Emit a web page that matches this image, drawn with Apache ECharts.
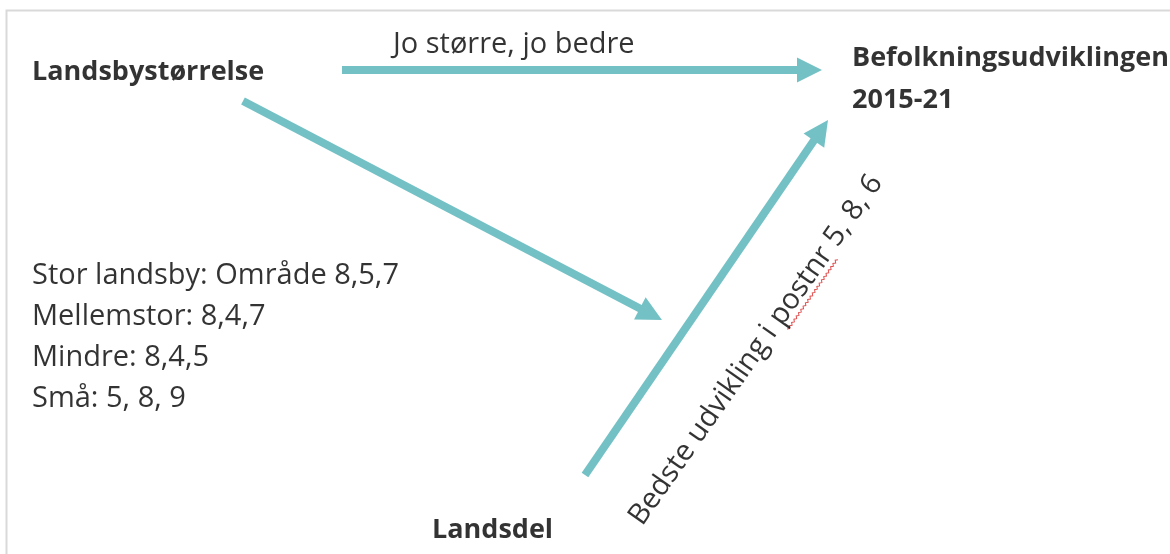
<!DOCTYPE html>
<html>
<head>
<meta charset="utf-8">
<script src="https://cdn.jsdelivr.net/npm/echarts@6/dist/echarts.min.js"></script>
<style>
  html, body { margin: 0; padding: 0; background: #fff; }
  #chart { width: 1170px; height: 554px; }
</style>
</head>
<body>
<div id="chart"></div>
<script>
// nodes of the diagram (names and where they sit, in picture pixels)
var nodeNames = ['Landsbystørrelse', 'Befolkningsudviklingen\n2015-21', 'Landsdel'];
var nodeX = [32, 852, 432];
var nodeY = [72, 79, 530];

// arrows: start and tip
var arrowStart = [[342, 70], [243, 101], [585, 475]];
var arrowTip = [[822, 70], [662, 320], [828, 120]];

// free texts
var topNote = 'Jo større, jo bedre';
var topNoteAt = [393, 45];
var sizeGroups = ['Stor landsby: Område 8,5,7', 'Mellemstor: 8,4,7', 'Mindre: 8,4,5', 'Små: 5, 8, 9'];
var sizeGroupsAt = [32, 337];
var regionNote = 'Bedste udvikling i postnr 5, 8, 6';
var regionNoteAt = [756, 350];
var regionNoteAngle = 55;

var teal = '#74c1c5';
var font = 'Open Sans';
var headSize = 25;

// the line ends in the middle of the arrow head, so pull it back half a head
function arrowData() {
    return arrowStart.map(function (s, i) {
        var t = arrowTip[i];
        var dx = t[0] - s[0], dy = t[1] - s[1];
        var len = Math.sqrt(dx * dx + dy * dy);
        var k = (len - headSize / 2) / len;
        return { coords: [s, [s[0] + dx * k, s[1] + dy * k]] };
    });
}

// spell-check wave under "postnr"
function squiggle(len) {
    var pts = [];
    for (var i = 0; i <= len / 2; i++) {
        pts.push([i * 2, (i % 2) * 2]);
    }
    return pts;
}

var chart = echarts.init(document.getElementById('chart'));
var option = {
    backgroundColor: '#fff',
    animation: false,
    grid: { left: 0, right: 0, top: 0, bottom: 0 },
    xAxis: { type: 'value', min: 0, max: 1170, show: false },
    yAxis: { type: 'value', min: 0, max: 554, inverse: true, show: false },
    graphic: [
        {
            type: 'polyline',
            shape: { points: [[6.5, 554], [6.5, 10.5], [1170, 10.5]] },
            style: { stroke: '#d9d9d9', lineWidth: 2, fill: null },
            silent: true
        },
        {
            type: 'polyline',
            x: 787, y: 329,
            rotation: regionNoteAngle * Math.PI / 180,
            shape: { points: squiggle(86) },
            style: { stroke: '#e05050', lineWidth: 1, fill: null },
            silent: true
        }
    ],
    series: [
        {
            type: 'lines',
            coordinateSystem: 'cartesian2d',
            symbol: ['none', 'triangle'],
            symbolSize: headSize,
            lineStyle: { color: teal, width: 8, opacity: 1, curveness: 0 },
            itemStyle: { color: teal },
            silent: true,
            data: arrowData()
        },
        {
            type: 'scatter',
            symbolSize: 0,
            silent: true,
            label: {
                show: true,
                position: [0, 0],
                align: 'left',
                verticalAlign: 'middle',
                fontFamily: font,
                fontSize: 27,
                fontWeight: 'bold',
                lineHeight: 42,
                color: '#000',
                formatter: function (p) { return p.name; }
            },
            data: nodeNames.map(function (n, i) {
                return { name: n, value: [nodeX[i], nodeY[i]] };
            })
        },
        {
            type: 'scatter',
            symbolSize: 0,
            silent: true,
            label: {
                show: true,
                position: [0, 0],
                align: 'left',
                verticalAlign: 'middle',
                fontFamily: font,
                fontSize: 29,
                lineHeight: 41,
                color: '#000',
                formatter: function (p) { return p.name; }
            },
            data: [
                { name: topNote, value: topNoteAt },
                { name: sizeGroups.join('\n'), value: sizeGroupsAt }
            ]
        },
        {
            type: 'scatter',
            symbolSize: 0,
            silent: true,
            label: {
                show: true,
                position: [0, 0],
                align: 'center',
                verticalAlign: 'middle',
                rotate: regionNoteAngle,
                fontFamily: font,
                fontSize: 29,
                color: '#000',
                formatter: function (p) { return p.name; }
            },
            data: [{ name: regionNote, value: regionNoteAt }]
        }
    ]
};
chart.setOption(option);
</script>
</body>
</html>
